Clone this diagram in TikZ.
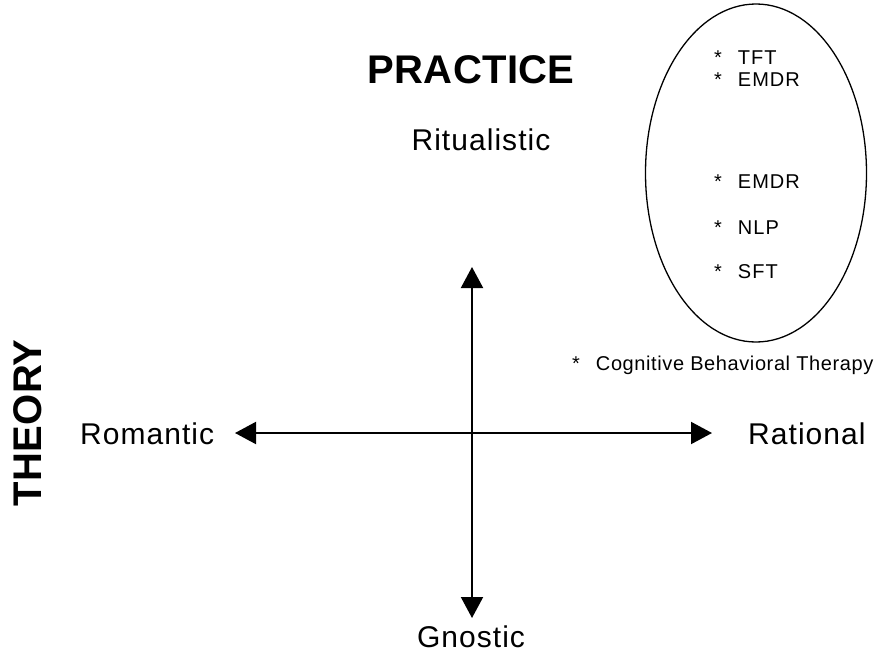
\documentclass[tikz,border=0pt]{standalone}
\usepackage{fontspec}
\setmainfont{Liberation Sans}
\usetikzlibrary{arrows.meta,shapes.geometric}
\begin{document}
\begin{tikzpicture}[x=1pt,y=-1pt,
  lab/.style={inner sep=0pt,font=\fontsize{30}{32}\selectfont\addfontfeature{LetterSpace=3.5}},
  big/.style={inner sep=0pt,font=\fontsize{40}{42}\selectfont\bfseries\addfontfeature{LetterSpace=1}},
  small/.style={inner sep=0pt,font=\fontsize{20}{22}\selectfont\addfontfeature{LetterSpace=5},anchor=west},
  axis/.style={line width=2pt,{Triangle[width=22pt,length=21pt]}-{Triangle[width=22pt,length=21pt]}}]
\useasboundingbox (0,0) rectangle (879,659);
\node[big] (practice) at (471,70) {PRACTICE};
\node[big,rotate=90] (theory) at (28,423) {THEORY};
\node[lab] (ritual) at (481,140) {Ritualistic};
\node[lab,anchor=west] (romantic) at (80,434) {Romantic};
\node[lab,anchor=west] (rational) at (748,434) {Rational};
\node[lab] (gnostic) at (471,637) {Gnostic};
\coordinate (top) at (472,267);
\coordinate (bot) at (472,618);
\coordinate (left) at (235,433);
\coordinate (right) at (712,433);
\draw[axis] (top) -- (bot);
\draw[axis] (left) -- (right);
\node[draw,ellipse,line width=1.3pt,minimum width=221pt,minimum height=338pt,inner sep=0pt] (ell) at (756,173) {};
\node[small] (s1) at (714,58) {*\hspace{16pt}TFT};
\node[small] (s2) at (714,80) {*\hspace{16pt}EMDR};
\node[small] (s3) at (714,182) {*\hspace{16pt}EMDR};
\node[small] (s4) at (714,228) {*\hspace{16pt}NLP};
\node[small] (s5) at (714,272) {*\hspace{16pt}SFT};
\node[small,font=\fontsize{20}{22}\selectfont\addfontfeature{LetterSpace=3}] (cbt) at (572,365) {*\hspace{16pt}Cognitive Behavioral Therapy};
\end{tikzpicture}
\end{document}
